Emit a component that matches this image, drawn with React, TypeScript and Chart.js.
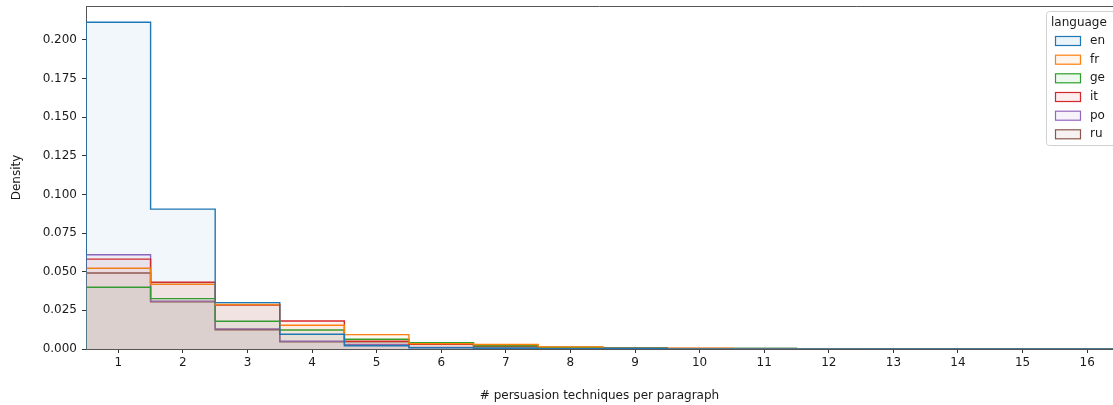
import React, { useEffect, useRef } from "react";
import { Chart, registerables } from "chart.js";

Chart.register(...registerables);

// Bin centers (# persuasion techniques per paragraph)
const bins = [1, 2, 3, 4, 5, 6, 7, 8, 9, 10, 11, 12, 13, 14, 15, 16];
const languages = ["en", "fr", "ge", "it", "po", "ru"];
const colors = ["#1f77b4", "#ff7f0e", "#2ca02c", "#d62728", "#9467bd", "#8c564b"];

const enValues = [0.2115, 0.0905, 0.03, 0.0095, 0.0021, 0.0008, 0.0005, 0.0002, 0.0003, 0.0001, 0.0001, 0.0001, 0.0001, 0.0001, 0.0001, 0.0001];
const frValues = [0.0523, 0.0419, 0.0288, 0.0154, 0.0093, 0.0035, 0.0029, 0.0014, 0.0004, 0.0005, 0.0002, 0.0002, 0, 0, 0, 0];
const geValues = [0.04, 0.0326, 0.018, 0.0123, 0.0063, 0.0041, 0.0021, 0.001, 0.0005, 0.0002, 0.0003, 0.0002, 0, 0, 0, 0];
const itValues = [0.0582, 0.0432, 0.0285, 0.0181, 0.005, 0.003, 0.002, 0.001, 0.0003, 0.0001, 0.0001, 0, 0, 0, 0, 0];
const poValues = [0.061, 0.031, 0.013, 0.005, 0.003, 0.001, 0.0005, 0.0003, 0.0001, 0, 0, 0, 0, 0, 0, 0];
const ruValues = [0.0492, 0.0305, 0.0125, 0.0047, 0.0047, 0.003, 0.0015, 0.001, 0.0007, 0.0003, 0.0003, 0.0002, 0.0001, 0, 0, 0];

const seriesValues = [enValues, frValues, geValues, itValues, poValues, ruValues];

const yTicks = [0, 0.025, 0.05, 0.075, 0.1, 0.125, 0.15, 0.175, 0.2];

const FONT = "'DejaVu Sans', sans-serif";

function hexToRgba(hex: string, a: number) {
  const r = parseInt(hex.slice(1, 3), 16);
  const g = parseInt(hex.slice(3, 5), 16);
  const b = parseInt(hex.slice(5, 7), 16);
  return `rgba(${r},${g},${b},${a})`;
}

function stepPoints(values: number[]) {
  const pts: { x: number; y: number }[] = [];
  const first = bins[0] - 0.5;
  pts.push({ x: first, y: 0 });
  values.forEach((v, i) => pts.push({ x: bins[i] - 0.5, y: v }));
  const last = bins[bins.length - 1] + 0.5;
  pts.push({ x: last, y: values[values.length - 1] });
  pts.push({ x: last, y: 0 });
  return pts;
}

const FILL_ALPHA = 0.06;

const topSpine = {
  id: "topSpine",
  afterDraw(chart: any) {
    const { ctx, chartArea } = chart;
    ctx.save();
    ctx.strokeStyle = "#555";
    ctx.lineWidth = 1;
    ctx.beginPath();
    ctx.moveTo(chartArea.left, chartArea.top + 0.5);
    ctx.lineTo(chartArea.right, chartArea.top + 0.5);
    ctx.stroke();
    ctx.restore();
  },
};

const boxLegend = {
  id: "boxLegend",
  afterDraw(chart: any) {
    const { ctx } = chart;
    const x0 = 1046.5;
    const y0 = 11.5;
    const w = 90;
    const h = 134;
    const r = 3;
    ctx.save();
    ctx.beginPath();
    ctx.moveTo(x0 + r, y0);
    ctx.lineTo(x0 + w - r, y0);
    ctx.arcTo(x0 + w, y0, x0 + w, y0 + r, r);
    ctx.lineTo(x0 + w, y0 + h - r);
    ctx.arcTo(x0 + w, y0 + h, x0 + w - r, y0 + h, r);
    ctx.lineTo(x0 + r, y0 + h);
    ctx.arcTo(x0, y0 + h, x0, y0 + h - r, r);
    ctx.lineTo(x0, y0 + r);
    ctx.arcTo(x0, y0, x0 + r, y0, r);
    ctx.closePath();
    ctx.fillStyle = "rgba(255,255,255,0.8)";
    ctx.fill();
    ctx.strokeStyle = "#d0d0d0";
    ctx.lineWidth = 1;
    ctx.stroke();

    ctx.font = `12px ${FONT}`;
    ctx.fillStyle = "#1a1a1a";
    ctx.textBaseline = "middle";
    ctx.textAlign = "left";
    ctx.fillText("language", 1051, 23);

    const rowYs = [41, 59.7, 78.3, 97, 115.7, 134.3];
    languages.forEach((lang, i) => {
      const cy = rowYs[i];
      ctx.fillStyle = "#ffffff";
      ctx.fillRect(1055.5, cy - 4.5, 25, 9);
      ctx.fillStyle = hexToRgba(colors[i], FILL_ALPHA * 1.3);
      ctx.fillRect(1055.5, cy - 4.5, 25, 9);
      ctx.strokeStyle = colors[i];
      ctx.lineWidth = 1.2;
      ctx.strokeRect(1055.5, cy - 4.5, 25, 9);
      ctx.fillStyle = "#1a1a1a";
      ctx.fillText(lang, 1090, cy);
    });
    ctx.restore();
  },
};

export default function App() {
  const canvasRef = useRef<HTMLCanvasElement | null>(null);

  useEffect(() => {
    document.body.style.margin = "0";
    const canvas = canvasRef.current;
    if (!canvas) return;

    const datasets = languages.map((lang, i) => ({
      label: lang,
      data: stepPoints(seriesValues[i]),
      borderColor: colors[i],
      backgroundColor: hexToRgba(colors[i], FILL_ALPHA),
      borderWidth: 1.4,
      fill: "origin",
      stepped: true,
      pointRadius: 0,
      pointHoverRadius: 0,
      tension: 0,
    }));

    const chart = new Chart(canvas, {
      type: "line",
      data: { datasets: datasets as any },
      plugins: [topSpine, boxLegend],
      options: {
        animation: false,
        responsive: false,
        events: [],
        layout: { padding: { top: 6, right: 0, left: 0, bottom: 0 } },
        plugins: {
          legend: { display: false },
          tooltip: { enabled: false },
          title: { display: false },
        },
        scales: {
          x: {
            type: "linear",
            min: 0.5,
            max: 16.4,
            afterBuildTicks: (scale: any) => {
              scale.ticks = bins.map((v) => ({ value: v }));
            },
            afterFit: (scale: any) => {
              scale.height = 56;
              scale.paddingLeft = 0;
              scale.paddingRight = 0;
            },
            grid: {
              drawOnChartArea: false,
              drawTicks: true,
              tickLength: 4,
              tickColor: "#333",
              tickWidth: 1,
            },
            border: { display: true, color: "#555", width: 1 },
            ticks: {
              autoSkip: false,
              maxRotation: 0,
              padding: 3,
              color: "#1a1a1a",
              font: { family: FONT, size: 12 },
              callback: (v: any) => String(v),
            },
            title: {
              display: true,
              text: "# persuasion techniques per paragraph",
              color: "#1a1a1a",
              font: { family: FONT, size: 12 },
              padding: { top: 0, bottom: 2 },
            },
          },
          y: {
            type: "linear",
            min: 0,
            max: 0.222,
            afterBuildTicks: (scale: any) => {
              scale.ticks = yTicks.map((v) => ({ value: v }));
            },
            afterFit: (scale: any) => {
              scale.width = 86;
              scale.paddingTop = 0;
              scale.paddingBottom = 0;
            },
            grid: {
              drawOnChartArea: false,
              drawTicks: true,
              tickLength: 4,
              tickColor: "#333",
              tickWidth: 1,
            },
            border: { display: true, color: "#555", width: 1 },
            ticks: {
              padding: 5,
              color: "#1a1a1a",
              font: { family: FONT, size: 12 },
              callback: (v: any) => Number(v).toFixed(3),
            },
            title: {
              display: true,
              text: "Density",
              color: "#1a1a1a",
              font: { family: FONT, size: 12 },
              padding: { top: 10, bottom: 0 },
            },
          },
        },
      } as any,
    });

    return () => chart.destroy();
  }, []);

  return (
    <canvas
      ref={canvasRef}
      width={1113}
      height={405}
      style={{ display: "block", width: "1113px", height: "405px" }}
    />
  );
}
